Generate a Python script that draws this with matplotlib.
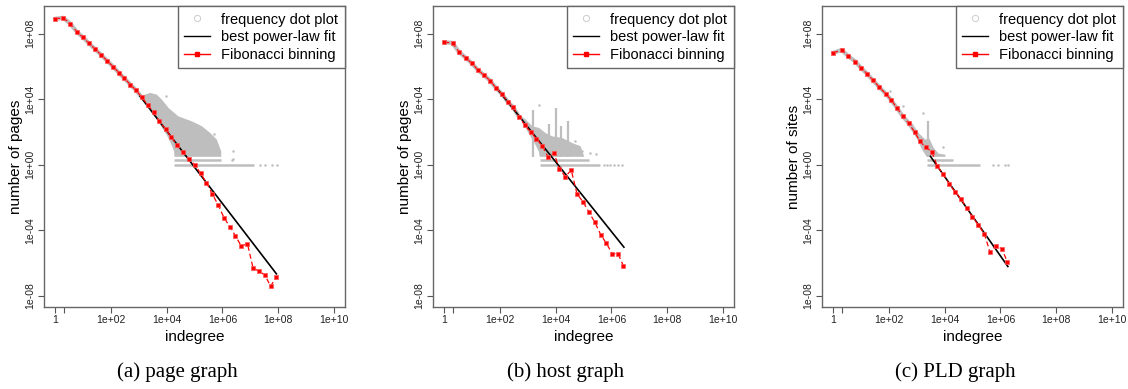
import numpy as np
import matplotlib
matplotlib.use("Agg")
import matplotlib.pyplot as plt
from matplotlib.lines import Line2D
from matplotlib.ticker import FixedLocator, NullFormatter

plt.rcParams["font.family"] = ["Liberation Sans", "DejaVu Sans"]

GRAY = "#BEBEBE"

# ── panel (a): page graph (all values are log10) ─────────────────────────────
A_BIN_X = [0.00, 0.29, 0.54, 0.78, 1.00, 1.21, 1.44, 1.65, 1.87, 2.09, 2.28,
           2.48, 2.70, 2.90, 3.11, 3.32, 3.53, 3.74, 3.96, 4.17, 4.38, 4.58,
           4.80, 5.01, 5.22, 5.43, 5.64, 5.85, 6.06, 6.27, 6.47, 6.68, 6.90,
           7.10, 7.31, 7.52, 7.73, 7.94]
A_BIN_Y = [8.90, 8.96, 8.61, 8.10, 7.76, 7.41, 7.04, 6.70, 6.33, 5.96, 5.62,
           5.27, 4.89, 4.54, 4.11, 3.64, 3.22, 2.65, 2.18, 1.67, 1.20, 0.75,
           0.35, -0.02, -0.53, -1.10, -1.79, -2.46, -3.24, -3.79, -4.34, -4.97,
           -4.82, -6.29, -6.50, -6.72, -7.41, -6.84]
A_FIT_X = [3.05, 7.94]
A_FIT_Y = [4.17, -6.66]
A_CLOUD_X = [3.05, 3.41, 3.65, 3.83, 4.07, 4.42, 4.91, 5.27, 5.56, 5.80, 5.96,
             5.96, 4.28, 4.27, 4.15, 4.00, 3.60]
A_CLOUD_Y = [4.17, 4.38, 4.27, 3.97, 3.46, 2.95, 2.64, 2.34, 1.94, 1.53, 0.81,
             0.48, 0.48, 0.81, 1.32, 1.83, 2.85]
A_BAND_Y = [0.0, 0.301]
A_BAND_X0 = [4.28, 4.28]
A_BAND_X1 = [7.12, 5.96]
A_DOT_X = [7.36, 7.54, 7.78, 7.96, 6.34, 3.98, 5.08, 5.50, 6.37, 6.37, 5.70]
A_DOT_Y = [0.0, 0.0, 0.0, 0.0, 0.301, 4.20, 2.41, 1.83, 0.81, 0.35, 1.90]
A_HEAD = 15

# ── panel (b): host graph ───────────────────────────────────────────────────
B_BIN_X = [0.00, 0.30, 0.53, 0.78, 0.99, 1.21, 1.43, 1.65, 1.86, 2.07, 2.28,
           2.48, 2.69, 2.89, 3.10, 3.31, 3.52, 3.73, 3.94, 4.13, 4.35, 4.56,
           4.77, 4.98, 5.19, 5.40, 5.62, 5.82, 6.03, 6.24, 6.43]
B_BIN_Y = [7.47, 7.43, 6.88, 6.51, 6.19, 5.78, 5.46, 5.13, 4.68, 4.32, 3.85,
           3.49, 2.91, 2.42, 2.00, 1.58, 1.15, 0.47, 0.71, -0.25, -0.72, -0.33,
           -1.79, -2.26, -2.88, -3.49, -4.27, -4.80, -5.42, -5.44, -6.16]
B_FIT_X = [1.88, 6.45]
B_FIT_Y = [4.68, -5.03]
B_CLOUD_X = [2.69, 2.93, 3.17, 3.41, 3.64, 3.88, 4.24, 4.60, 4.90, 5.02, 5.02,
             3.43, 3.40, 3.25, 3.00]
B_CLOUD_Y = [3.05, 2.75, 2.34, 2.24, 1.93, 1.73, 1.63, 1.32, 1.12, 0.51, 0.48,
             0.48, 0.80, 1.30, 2.00]
B_SPIKE_X = [3.19, 3.76, 4.00, 4.18, 4.46]
B_SPIKE_TOP = [3.36, 2.50, 3.46, 2.34, 2.65]
B_BAND_Y = [0.0, 0.301]
B_BAND_X0 = [3.43, 3.43]
B_BAND_X1 = [5.60, 5.20]
B_DOT_X = [5.75, 5.85, 5.95, 6.10, 6.25, 6.39, 3.40, 4.70, 4.78, 4.93, 5.44,
           5.25]
B_DOT_Y = [0.0, 0.0, 0.0, 0.0, 0.0, 0.0, 3.66, 1.42, 1.12, 0.81, 0.67, 0.72]
B_HEAD = 13

# ── panel (c): PLD graph ────────────────────────────────────────────────────
C_BIN_X = [0.00, 0.31, 0.54, 0.80, 1.00, 1.22, 1.43, 1.66, 1.88, 2.09, 2.29,
           2.50, 2.71, 2.92, 3.12, 3.32, 3.54, 3.74, 3.94, 4.16, 4.37, 4.59,
           4.79, 4.99, 5.21, 5.42, 5.63, 5.83, 6.05, 6.25]
C_BIN_Y = [6.82, 7.00, 6.62, 6.29, 5.90, 5.54, 5.15, 4.72, 4.34, 3.93, 3.46,
           2.95, 2.54, 2.00, 1.42, 1.06, 0.79, -0.10, -0.55, -1.16, -1.65,
           -2.08, -2.65, -3.16, -3.68, -4.21, -5.33, -4.93, -5.13, -5.92]
C_FIT_X = [3.49, 6.27]
C_FIT_Y = [0.51, -6.21]
C_CLOUD_X = [2.60, 2.85, 3.07, 3.31, 3.45, 3.61, 3.79, 4.03, 4.03, 3.36, 3.20,
             3.00, 2.60]
C_CLOUD_Y = [2.90, 2.50, 1.93, 1.53, 1.60, 1.02, 0.67, 0.61, 0.48, 0.48, 0.90,
             1.60, 2.60]
C_SPIKE_X = [3.42]
C_SPIKE_TOP = [2.64]
C_BAND_Y = [0.0, 0.301]
C_BAND_X0 = [3.36, 3.36]
C_BAND_X1 = [5.26, 4.31]
C_DOT_X = [5.75, 5.93, 6.17, 6.29, 2.04, 2.50, 3.24, 3.95]
C_DOT_Y = [0.0, 0.0, 0.0, 0.0, 4.48, 3.56, 3.16, 1.08]
C_HEAD = 13

YLABELS = ["number of pages", "number of pages", "number of sites"]
CAPTIONS = ["(a) page graph", "(b) host graph", "(c) PLD graph"]
XTICKS = [0, 2, 4, 6, 8, 10]
XTICKLABELS = ["1", "1e+02", "1e+04", "1e+06", "1e+08", "1e+10"]
YTICKS = [-8, -4, 0, 4, 8]
YTICKLABELS = ["1e-08", "1e-04", "1e+00", "1e+04", "1e+08"]

panels = [
    (A_BIN_X, A_BIN_Y, A_FIT_X, A_FIT_Y, A_CLOUD_X, A_CLOUD_Y, [], [],
     A_BAND_Y, A_BAND_X0, A_BAND_X1, A_DOT_X, A_DOT_Y, A_HEAD),
    (B_BIN_X, B_BIN_Y, B_FIT_X, B_FIT_Y, B_CLOUD_X, B_CLOUD_Y, B_SPIKE_X,
     B_SPIKE_TOP, B_BAND_Y, B_BAND_X0, B_BAND_X1, B_DOT_X, B_DOT_Y, B_HEAD),
    (C_BIN_X, C_BIN_Y, C_FIT_X, C_FIT_Y, C_CLOUD_X, C_CLOUD_Y, C_SPIKE_X,
     C_SPIKE_TOP, C_BAND_Y, C_BAND_X0, C_BAND_X1, C_DOT_X, C_DOT_Y, C_HEAD),
]


def p10(v):
    return 10.0 ** np.asarray(v, dtype=float)


W, H = 1128, 389
fig = plt.figure(figsize=(W / 100, H / 100), dpi=100)
lefts = [44, 433, 822]

for i, pan in enumerate(panels):
    (bx, by, fx, fy, cx, cy, sx, st, bandy, bx0, bx1, dx, dy, head) = pan
    ax = fig.add_axes([lefts[i] / W, 1 - 307 / H, 301 / W, 301 / H])
    ax.set_xscale("log")
    ax.set_yscale("log")
    ax.set_xlim(10 ** -0.4, 10 ** 10.4)
    ax.set_ylim(10 ** -8.68, 10 ** 9.68)

    # frequency dot plot (gray)
    ax.fill(p10(cx), p10(cy), color=GRAY, lw=0, zorder=1)
    for x0, top in zip(sx, st):
        ax.vlines(p10(x0), 10 ** 0.48, p10(top), color=GRAY, lw=1.6, zorder=1)
    for yy, x0, x1 in zip(bandy, bx0, bx1):
        ax.hlines(p10(yy), p10(x0), p10(x1), color=GRAY, lw=1.8, zorder=1)
    ax.plot(p10(dx), p10(dy), "o", ms=1.8, color=GRAY, mec="none", zorder=1)
    ax.plot(p10(bx[:head]), p10(by[:head]), color=GRAY, lw=3.0, zorder=1,
            solid_capstyle="round")

    # fit and binning
    ax.plot(p10(fx), p10(fy), color="black", lw=1.2, zorder=3)
    ax.plot(p10(bx), p10(by), color="red", lw=0.9, ls=(0, (4, 2.5)),
            marker="s", ms=3.0, mfc="red", mec="#ff5555", mew=0.5, zorder=4)

    ax.xaxis.set_major_locator(FixedLocator(p10(XTICKS)))
    ax.set_xticklabels(XTICKLABELS)
    ax.xaxis.set_minor_locator(FixedLocator([2.0]))
    ax.xaxis.set_minor_formatter(NullFormatter())
    ax.yaxis.set_major_locator(FixedLocator(p10(YTICKS)))
    ax.set_yticklabels(YTICKLABELS, rotation=90, va="center")
    ax.yaxis.set_minor_locator(FixedLocator([]))
    ax.tick_params(which="both", length=4, width=0.8, color="#555555",
                   labelsize=7.5, labelcolor="#222222", pad=2)
    for s in ax.spines.values():
        s.set_color("#666666")
        s.set_linewidth(1.0)

    ax.set_xlabel("indegree", fontsize=11, labelpad=3)
    ax.set_ylabel(YLABELS[i], fontsize=11, labelpad=2)

    handles = [
        Line2D([], [], ls="none", marker="o", ms=4.5, mfc="none", mec="#cccccc",
               mew=0.7),
        Line2D([], [], color="black", lw=1.0),
        Line2D([], [], color="red", lw=1.0, marker="s", ms=2.5),
    ]
    leg = ax.legend(handles, ["frequency dot plot", "best power-law fit",
                              "Fibonacci binning"],
                    loc="upper right", borderaxespad=0, fancybox=False,
                    fontsize=10.5, handlelength=1.75, handletextpad=0.8,
                    labelspacing=0.25, borderpad=0.45, framealpha=1)
    leg.get_frame().set_edgecolor("#666666")
    leg.get_frame().set_linewidth(1.0)

    cxp = (lefts[i] + 133) / W
    fig.text(cxp, 1 - 372 / H, CAPTIONS[i], ha="center", va="center",
             fontsize=15, family=["Liberation Serif", "DejaVu Serif"])

fig.savefig("out.png", dpi=100)
